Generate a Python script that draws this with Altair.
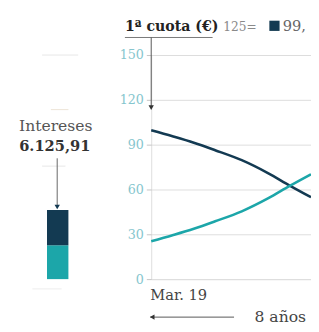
import altair as alt
import pandas as pd

# ---- data ----
months = [0, 8, 16, 24, 34, 44, 52, 60]
intereses = [99.6, 95.6, 91.3, 86.3, 79.6, 70.8, 62.6, 54.8]
amortizacion = [25.4, 29.4, 33.7, 38.7, 45.4, 54.2, 62.4, 70.2]
y_ticks = [0, 30, 60, 90, 120, 150]
series_names = ["Intereses", "Amortización"]
bar_parts = ["Capital", "Intereses"]
bar_values = [5874.09, 6125.91]
bar_order = [0, 1]

title_text = "1ª cuota (€)"
cuota_text = "125="
legend_text = "99,"
total_label = "Intereses"
total_value = "6.125,91"
start_label = "Mar. 19"
span_label = "8 años"

DARK = "#133a52"
TEAL = "#1ca6a9"
FONT = "DejaVu Serif"

W, H = 164, 230

df = pd.DataFrame({
    "mes": months * 2,
    "valor": intereses + amortizacion,
    "serie": [series_names[0]] * len(months) + [series_names[1]] * len(months),
})

x_enc = alt.X("mes:Q", scale=alt.Scale(domain=[0, 60], nice=False, zero=False), axis=None)
y_enc = alt.Y(
    "valor:Q",
    scale=alt.Scale(domain=[0, 150], nice=False),
    axis=alt.Axis(values=y_ticks, title=None, grid=True, gridColor="#dddddd",
                  domain=False, tickColor="#c4c4c4", tickSize=5, labelColor="#86c6ce",
                  labelFont=FONT, labelFontSize=13, labelPadding=3),
)

lines = alt.Chart(df).mark_line(strokeWidth=2.6, interpolate="monotone").encode(
    x=x_enc, y=y_enc,
    color=alt.Color("serie:N", scale=alt.Scale(domain=series_names, range=[DARK, TEAL]), legend=None),
)

bar_df = pd.DataFrame({"parte": bar_parts, "importe": bar_values, "orden": bar_order})
bar = alt.Chart(bar_df).transform_window(
    hi="sum(importe)", sort=[alt.SortField("orden")], frame=[None, 0]
).transform_calculate(
    lo="datum.hi - datum.importe"
).mark_rect().encode(
    x=alt.value(-107), x2=alt.value(-85),
    y=alt.Y("hi:Q", scale=alt.Scale(domain=[0, 38900], nice=False), axis=None),
    y2="lo:Q",
    color=alt.Color("parte:N", scale=alt.Scale(domain=bar_parts, range=[TEAL, DARK]), legend=None),
)


def text(t, x, y, size=13, color="#444", weight="normal", align="left"):
    return alt.Chart(pd.DataFrame({"t": [t]})).mark_text(
        font=FONT, fontSize=size, color=color, fontWeight=weight, align=align, baseline="alphabetic"
    ).encode(text="t:N", x=alt.value(x), y=alt.value(y))


def rule(x1, x2, y1, y2, color="#555", width=1):
    return alt.Chart(pd.DataFrame({"a": [0]})).mark_rule(color=color, strokeWidth=width).encode(
        x=alt.value(x1), x2=alt.value(x2), y=alt.value(y1), y2=alt.value(y2))


def pt(x, y, shape, size=28, color="#444"):
    return alt.Chart(pd.DataFrame({"a": [0]})).mark_point(shape=shape, filled=True, size=size,
                                                        color=color, opacity=1).encode(
        x=alt.value(x), y=alt.value(y))


annotations = [
    # faint decorative lines at left
    rule(-112, -75, 0, 0, color="#e6e6e6"),
    rule(-103, -85, 56, 56, color="#ece3d6"),
    rule(-112, -88, 114, 114, color="#e6e6e6"),
    rule(-122, -92, 240, 240, color="#eeeeee"),
    # title
    text(title_text, -27, -25, size=14.5, color="#222", weight="bold"),
    text(cuota_text, 74, -25, size=12.5, color="#8a8a8a"),
    pt(126.5, -30, "square", size=110, color=DARK),
    text(legend_text, 135, -25, size=15, color="#666"),
    rule(-27, 63, -18, -18, color="#777"),
    rule(0, 0, -18, 54, color="#555"),
    pt(0, 54, "triangle-down", size=30, color="#333"),
    # left total
    text(total_label, -98, 78, size=16, color="#555", align="center"),
    text(total_value, -99, 98, size=15, color="#333", weight="bold", align="center"),
    rule(-96.5, -96.5, 106, 156, color="#666"),
    pt(-96.5, 156, "triangle-down", size=30, color=DARK),
    # bottom
    text(start_label, -1, 251, size=15, color="#444"),
    rule(-1, 85, 269, 269, color="#555"),
    pt(1, 269, "triangle-left", size=30, color="#333"),
    text(span_label, 106, 274, size=16, color="#444"),
]

chart = alt.layer(lines, bar, *annotations).resolve_scale(
    y="independent", color="independent"
).properties(
    width=W, height=H,
    padding={"left": 147, "top": 44, "right": 0, "bottom": 50},
    autosize=alt.AutoSizeParams(type="none"),
).configure_view(stroke=None).configure(background="white")

chart.save("out.html", embed_options={"renderer": "svg", "actions": False})
